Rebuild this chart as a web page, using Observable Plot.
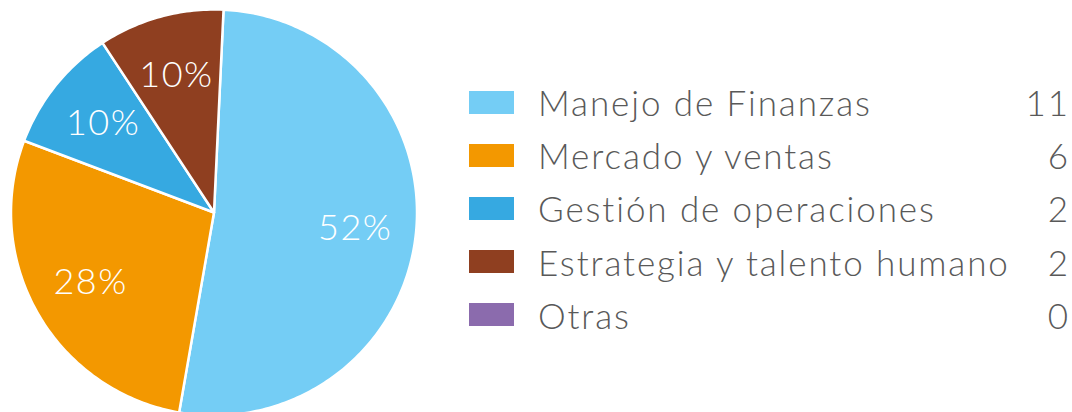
<!DOCTYPE html>
<html><head><meta charset="utf-8">
<script src="https://cdn.jsdelivr.net/npm/d3@7"></script>
<script src="https://cdn.jsdelivr.net/npm/@observablehq/plot@0.6"></script>
<style>
body{margin:0;background:#fff;}
#wrap{position:relative;width:1072px;height:412px;overflow:hidden;font-family:Lato,"Open Sans",sans-serif;font-weight:300;color:#595959;}
#pie{position:absolute;left:0;top:0;}
#pie text{letter-spacing:1.5px;}
.row{position:absolute;left:469px;width:601px;height:40px;display:flex;align-items:center;font-size:35px;letter-spacing:1.9px;}
.sw{width:45px;height:23px;margin-right:24px;flex:none;}
.lab{flex:1;white-space:nowrap;}
.val{text-align:right;}
</style></head><body><div id="wrap"><div id="pie"></div><div id="legend"></div></div>
<script>
const categories = ["Manejo de Finanzas","Mercado y ventas","Gestión de operaciones","Estrategia y talento humano","Otras"];
const counts = [11, 6, 2, 2, 0];
const percents = [52, 28, 10, 10, 0];
const percentLabels = ["52%", "28%", "10%", "10%", "0%"];
const colors = ["#74CDF5", "#F39800", "#36A9E1", "#8F3F20", "#8B6BAD"];

const startAngle = 0.047;
const data = categories.map((c, i) => ({name: c, count: counts[i], pct: percents[i], label: percentLabels[i]}));
const arcs = d3.pie().value(d => d.pct).sort(null).startAngle(startAngle).endAngle(startAngle + 2 * Math.PI)(data)
  .filter(a => a.data.pct > 0);

const features = arcs.map(a => {
  const n = Math.max(8, Math.ceil((a.endAngle - a.startAngle) * 60));
  const ring = [[0, 0]];
  for (let k = 0; k <= n; k++) {
    const t = a.startAngle + (a.endAngle - a.startAngle) * k / n;
    ring.push([Math.sin(t), Math.cos(t)]);
  }
  ring.push([0, 0]);
  return {type: "Feature", properties: {name: a.data.name}, geometry: {type: "Polygon", coordinates: [ring]}};
});
const labels = arcs.map(a => {
  const m = (a.startAngle + a.endAngle) / 2;
  return {x: 0.7 * Math.sin(m), y: 0.7 * Math.cos(m), text: a.data.label};
});
const domain = {type: "Feature", geometry: {type: "Polygon", coordinates: [[[-1,-1],[1,-1],[1,1],[-1,1],[-1,-1]]]}};

const chart = Plot.plot({
  width: 430, height: 412,
  marginLeft: 10, marginRight: 13, marginTop: 9, marginBottom: -3,
  projection: {type: "reflect-y", domain},
  color: {domain: categories, range: colors},
  marks: [
    Plot.geo(features, {fill: d => d.properties.name, stroke: "white", strokeWidth: 2.5}),
    Plot.text(labels, {x: "x", y: "y", text: "text", fill: "white", fontSize: 36, fontWeight: 300, fontFamily: "Lato, 'Open Sans', sans-serif"})
  ]
});
document.getElementById("pie").appendChild(chart);

const legend = document.getElementById("legend");
data.forEach((d, i) => {
  const row = document.createElement("div");
  row.className = "row";
  row.style.top = (82 + i * 53.2) + "px";
  row.innerHTML = `<div class="sw" style="background:${colors[i]}"></div><div class="lab">${d.name}</div><div class="val">${d.count}</div>`;
  legend.appendChild(row);
});
</script></body></html>
